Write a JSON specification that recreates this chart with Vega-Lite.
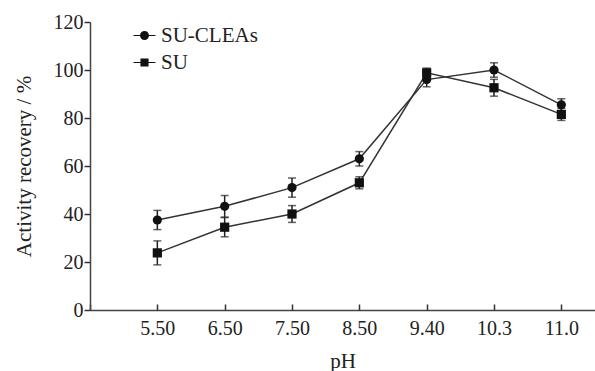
{
  "$schema": "https://vega.github.io/schema/vega-lite/v6.json",
  "width": 505,
  "height": 288,
  "autosize": "none",
  "padding": {"left": 90, "top": 22, "right": 0, "bottom": 61},
  "background": "white",
  "config": {
    "view": {"stroke": null},
    "font": "Liberation Serif",
    "axis": {
      "grid": false,
      "domainColor": "#444",
      "domainWidth": 1.5,
      "labelFont": "Liberation Serif",
      "labelFontSize": 20,
      "labelColor": "#222",
      "titleFont": "Liberation Serif",
      "titleFontSize": 21,
      "titleFontWeight": "normal",
      "titleColor": "#222"
    }
  },
  "data": {
    "values": [
      {"idx": 1, "pH": "5.50", "series": "SU-CLEAs", "value": 37.5, "err": 4},
      {"idx": 2, "pH": "6.50", "series": "SU-CLEAs", "value": 43.2, "err": 4.5},
      {"idx": 3, "pH": "7.50", "series": "SU-CLEAs", "value": 51, "err": 4},
      {"idx": 4, "pH": "8.50", "series": "SU-CLEAs", "value": 63, "err": 3},
      {"idx": 5, "pH": "9.40", "series": "SU-CLEAs", "value": 96, "err": 3},
      {"idx": 6, "pH": "10.3", "series": "SU-CLEAs", "value": 100, "err": 3},
      {"idx": 7, "pH": "11.0", "series": "SU-CLEAs", "value": 85.5, "err": 2.5},
      {"idx": 1, "pH": "5.50", "series": "SU", "value": 23.8, "err": 5},
      {"idx": 2, "pH": "6.50", "series": "SU", "value": 34.5, "err": 4},
      {"idx": 3, "pH": "7.50", "series": "SU", "value": 40, "err": 3.5},
      {"idx": 4, "pH": "8.50", "series": "SU", "value": 53, "err": 2.5},
      {"idx": 5, "pH": "9.40", "series": "SU", "value": 98.8, "err": 2},
      {"idx": 6, "pH": "10.3", "series": "SU", "value": 92.6, "err": 3.5},
      {"idx": 7, "pH": "11.0", "series": "SU", "value": 81.5, "err": 2.5}
    ]
  },
  "layer": [
    {
      "mark": {"type": "line", "color": "#333", "strokeWidth": 1.5},
      "encoding": {
        "x": {
          "field": "idx",
          "type": "quantitative",
          "scale": {"domain": [0, 7.5], "nice": false, "zero": false},
          "axis": {
            "title": "pH",
            "orient": "bottom",
            "tickCount": 8,
            "labelExpr": "['','5.50','6.50','7.50','8.50','9.40','10.3','11.0'][datum.value]",
            "ticks": false,
            "labelPadding": 8,
            "titlePadding": 12
          }
        },
        "y": {
          "field": "value",
          "type": "quantitative",
          "scale": {"domain": [0, 120], "nice": false},
          "axis": {
            "title": "Activity recovery / %",
            "orient": "left",
            "tickCount": 7,
            "ticks": false,
            "labelPadding": 7,
            "titlePadding": 19
          }
        },
        "detail": {"field": "series"}
      }
    },
    {
      "mark": {"type": "errorbar", "color": "#222", "ticks": {"size": 8}, "thickness": 1.5},
      "encoding": {
        "x": {
          "field": "idx",
          "type": "quantitative",
          "axis": {
            "title": null,
            "orient": "bottom",
            "tickCount": 8,
            "labels": false,
            "domain": false,
            "ticks": true,
            "tickColor": "#333",
            "tickWidth": 1.5,
            "tickSize": 6,
            "offset": -6
          }
        },
        "y": {
          "field": "value",
          "type": "quantitative",
          "axis": {
            "title": null,
            "orient": "left",
            "tickCount": 7,
            "labels": false,
            "domain": false,
            "ticks": true,
            "tickColor": "#333",
            "tickWidth": 1.5,
            "tickSize": 6
          }
        },
        "yError": {"field": "err"},
        "detail": {"field": "series"}
      }
    },
    {
      "mark": {"type": "point", "filled": true, "color": "#111", "opacity": 1, "size": 85},
      "encoding": {
        "x": {"field": "idx", "type": "quantitative", "axis": null},
        "y": {"field": "value", "type": "quantitative", "axis": null},
        "shape": {
          "field": "series",
          "scale": {"domain": ["SU-CLEAs", "SU"], "range": ["circle", "square"]},
          "legend": null
        }
      }
    },
    {
      "mark": {"type": "point", "filled": true, "color": "#111", "opacity": 0, "size": 324},
      "encoding": {
        "x": {"field": "idx", "type": "quantitative", "axis": null},
        "y": {"field": "value", "type": "quantitative", "axis": null},
        "shape": {
          "field": "series",
          "scale": {
            "domain": ["SU-CLEAs", "SU"],
            "range": [
              "M-1.22,-0.042H-0.45V0.042H-1.22Z M0.45,-0.042H1.22V0.042H0.45Z M-0.5,0A0.5,0.5 0 1,1 0.5,0A0.5,0.5 0 1,1 -0.5,0Z",
              "M-1.22,-0.042H-0.4V0.042H-1.22Z M0.4,-0.042H1.22V0.042H0.4Z M-0.45,-0.45H0.45V0.45H-0.45Z"
            ]
          },
          "legend": {
            "title": null,
            "orient": "none",
            "legendX": 44,
            "legendY": 3,
            "labelFont": "Liberation Serif",
            "labelFontSize": 21,
            "labelColor": "#222",
            "labelOffset": 6,
            "symbolSize": 324,
            "symbolOpacity": 1,
            "symbolFillColor": "#111",
            "symbolStrokeWidth": 0,
            "rowPadding": 5
          }
        }
      }
    }
  ],
  "resolve": {"scale": {"shape": "independent"}, "axis": {"x": "independent", "y": "independent"}}
}
